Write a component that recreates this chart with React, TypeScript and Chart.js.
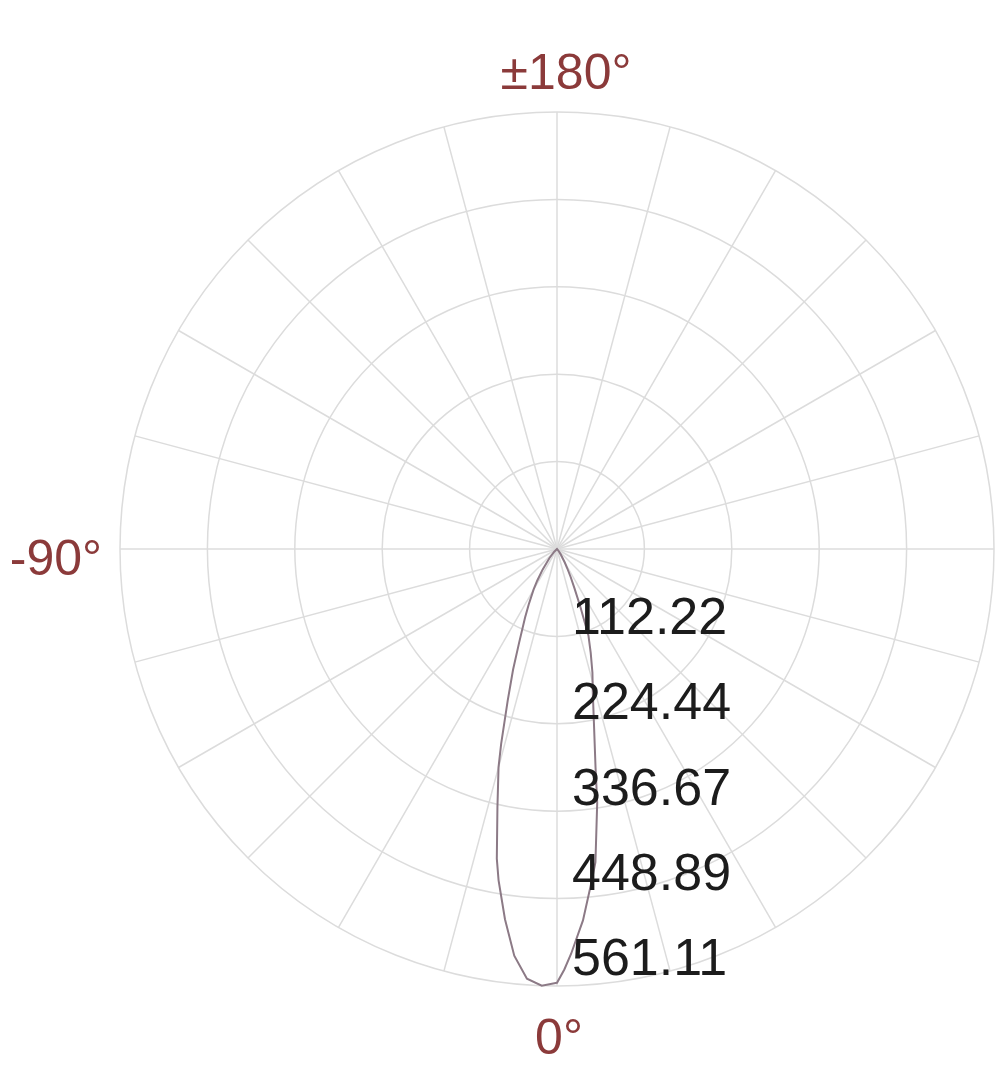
import React, { useEffect, useRef } from 'react';
import { Chart, registerables } from 'chart.js';

Chart.register(...registerables);

// Radial ring values (0 = centre) and their printed labels
const ringValues = [0, 112.22, 224.44, 336.67, 448.89, 561.11];
const ringLabels = ['112.22', '224.44', '336.67', '448.89', '561.11'];

// Intensity curve: angle (deg, 0 = down, negative = left) and value
const lobeAngles = [-60, -45, -40, -35, -32, -30, -27, -25, -22, -20, -18, -16, -15, -13, -11, -10, -8, -6, -4, -2, 0, 1, 2, 4, 6, 7, 9, 10, 12, 14, 16, 18, 20, 22, 24, 26, 28, 30, 35, 40, 50];
const lobeValues = [0, 5, 15, 32, 48, 60, 80, 97, 130, 165, 205, 260, 290, 340, 405, 432, 480, 525, 553, 561, 557, 540, 520, 478, 428, 405, 330, 285, 228, 190, 165, 140, 118, 80, 55, 40, 28, 20, 8, 3, 0];

// Axis direction labels
const axisAngles = [180, -90, 0];
const axisTexts = ['±180°', '-90°', '0°'];

const spokeStep = 15; // degrees between radial grid lines
const angleCount = 360; // 1 degree resolution

const angleToIndex = (a: number) => ((-a % 360) + 360) % 360;

const labels: string[] = [];
for (let i = 0; i < angleCount; i++) {
  const a = i === 180 ? 180 : i < 180 ? -i : 360 - i;
  labels.push(a + '°');
}
const seriesData: (number | null)[] = new Array(angleCount).fill(null);
lobeAngles.forEach((a, k) => {
  seriesData[angleToIndex(a)] = lobeValues[k];
});

const AXIS_FONT = '50px "Liberation Sans", Arial, sans-serif';
const TICK_FONT = '52px "Liberation Sans", Arial, sans-serif';

const polarTextPlugin = {
  id: 'polarText',
  afterDraw(chart: any) {
    const s = chart.scales.r;
    const ctx = chart.ctx;
    ctx.save();
    ctx.textBaseline = 'alphabetic';
    // ring value labels along the 0° spoke
    ctx.font = TICK_FONT;
    ctx.fillStyle = '#1c1c1c';
    ctx.textAlign = 'left';
    ringLabels.forEach((t, k) => {
      const d = s.getDistanceFromCenterForValue(ringValues[k + 1]);
      ctx.fillText(t, s.xCenter + 15, s.yCenter + d * 0.975);
    });
    // direction labels
    ctx.font = AXIS_FONT;
    ctx.fillStyle = '#8b3a3a';
    axisAngles.forEach((a, k) => {
      const p = s.getPointPositionForValue(angleToIndex(a), s.max);
      if (a === 180) {
        ctx.textAlign = 'center';
        ctx.fillText(axisTexts[k], p.x + 9, p.y - 23);
      } else if (a === -90) {
        ctx.textAlign = 'right';
        ctx.fillText(axisTexts[k], p.x - 18, p.y + 26);
      } else {
        ctx.textAlign = 'center';
        ctx.fillText(axisTexts[k], p.x + 2, p.y + 68);
      }
    });
    ctx.restore();
  },
};

export default function App() {
  const ref = useRef<HTMLCanvasElement | null>(null);
  useEffect(() => {
    if (!ref.current) return;
    const chart = new Chart(ref.current, {
      type: 'radar',
      data: {
        labels,
        datasets: [
          {
            data: seriesData,
            borderColor: '#8c7a86',
            backgroundColor: 'transparent',
            borderWidth: 2,
            pointRadius: 0,
            pointHoverRadius: 0,
            fill: false,
            spanGaps: true,
            tension: 0,
          } as any,
        ],
      },
      options: {
        responsive: false,
        animation: false,
        layout: { padding: { left: 120, top: 112, right: 1, bottom: 87 } },
        plugins: { legend: { display: false }, tooltip: { enabled: false } },
        scales: {
          r: {
            min: 0,
            max: 561.11,
            startAngle: 180,
            afterBuildTicks: (s: any) => {
              s.ticks = ringValues.map((v) => ({ value: v }));
            },
            ticks: { display: false },
            grid: { circular: true, color: '#dcdcdc', lineWidth: 1.5 },
            angleLines: {
              color: '#dcdcdc',
              lineWidth: (c: any) => (c.index % spokeStep === 0 ? 1.5 : 0),
            },
            pointLabels: { display: false },
          } as any,
        },
      },
      plugins: [polarTextPlugin],
    });
    return () => chart.destroy();
  }, []);
  return (
    <div style={{ position: 'fixed', left: 0, top: 0, width: 995, height: 1073, background: '#fff' }}>
      <canvas ref={ref} width={995} height={1073} style={{ display: 'block' }} />
    </div>
  );
}
